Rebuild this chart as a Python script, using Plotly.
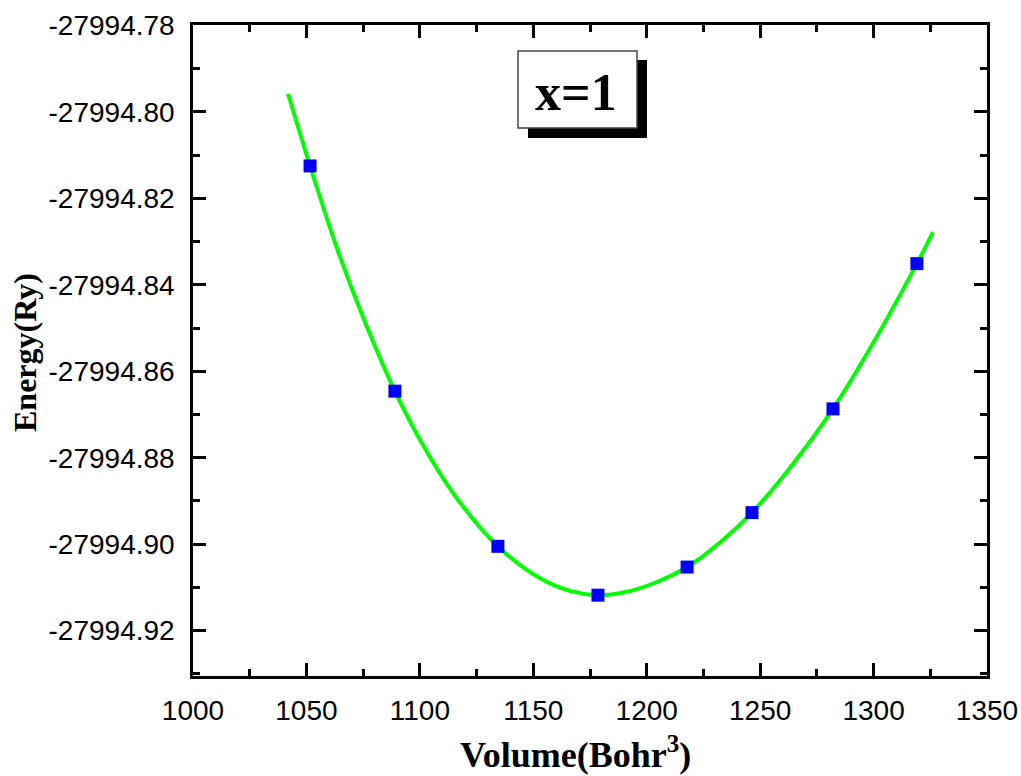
import plotly.graph_objects as go

# Calculated points (blue squares)
volume = [1051.6, 1089.0, 1134.4, 1178.5, 1217.8, 1246.4, 1282.1, 1319.1]
energy = [-27994.8125, -27994.8646, -27994.9005, -27994.9118,
          -27994.9053, -27994.8927, -27994.8687, -27994.8351]

# Fitted curve (green)
fit_volume = [1041.9, 1051.6, 1063.5, 1075.1, 1089.0, 1101.5, 1115.5, 1134.4,
              1153.0, 1166.2, 1178.5, 1189.7, 1202.9, 1217.8, 1232.3, 1246.4,
              1263.2, 1282.1, 1300.0, 1319.1, 1326.2]
fit_energy = [-27994.7958, -27994.8125, -27994.8316, -27994.8477, -27994.8646,
              -27994.8772, -27994.8888, -27994.9005, -27994.9079, -27994.9108,
              -27994.9118, -27994.9112, -27994.9091, -27994.9053, -27994.8996,
              -27994.8927, -27994.8823, -27994.8687, -27994.8533, -27994.8351,
              -27994.8278]

y_tickvals = [-27994.78, -27994.80, -27994.82, -27994.84, -27994.86,
              -27994.88, -27994.90, -27994.92]
y_ticktext = ["-27994.78", "-27994.80", "-27994.82", "-27994.84", "-27994.86",
              "-27994.88", "-27994.90", "-27994.92"]

label_text = "x=1"
x_title = "Volume(Bohr<sup>3</sup>)"
y_title = "Energy(Ry)"

fig = go.Figure()
fig.add_trace(go.Scatter(x=fit_volume, y=fit_energy, mode="lines",
                         line=dict(color="#00FF00", width=4, shape="spline", smoothing=1.0),
                         showlegend=False, hoverinfo="skip"))
fig.add_trace(go.Scatter(x=volume, y=energy, mode="markers",
                         marker=dict(symbol="square", size=13, color="#0000FF",
                                     line=dict(width=0)),
                         showlegend=False))

L, R, T, B = 193, 34, 25, 100
W, H = 1021, 776
pw, ph = W - L - R, H - T - B

def px(x):
    return (x - L) / pw

def py(y):
    return (H - B - y) / ph

tickfont = dict(family="Liberation Sans, Arial", size=28, color="black")
axis_common = dict(showline=True, linecolor="black", linewidth=2.5, mirror="allticks",
                   ticks="inside", ticklen=13, tickwidth=2.5, tickcolor="black",
                   showgrid=False, zeroline=False, tickfont=tickfont)

fig.update_xaxes(range=[1000, 1350], tick0=1000, dtick=50,
                 minor=dict(ticks="inside", ticklen=7, tickwidth=2.5, tickcolor="black", dtick=25, showgrid=False),
                 ticklabelstandoff=8, **axis_common)
fig.update_yaxes(range=[-27994.9305, -27994.7799], tickmode="array",
                 tickvals=y_tickvals, ticktext=y_ticktext,
                 minor=dict(ticks="inside", ticklen=7, tickwidth=2.5, tickcolor="black",
                            tick0=-27994.78, dtick=0.01, showgrid=False),
                 ticklabelstandoff=10, **axis_common)

shapes = [
    dict(type="rect", xref="paper", yref="paper", x0=px(528), x1=px(647), y0=py(138), y1=py(60),
         fillcolor="black", line=dict(width=0), layer="above"),
    dict(type="rect", xref="paper", yref="paper", x0=px(518), x1=px(637), y0=py(128), y1=py(51),
         fillcolor="white", line=dict(color="#444444", width=1.5), layer="above"),
]

annotations = [
    dict(text="<b>" + label_text + "</b>", xref="paper", yref="paper", x=px(576), y=py(92),
         xanchor="center", yanchor="middle", showarrow=False,
         font=dict(family="Liberation Serif, Times New Roman", size=52, color="black")),
    dict(text="<b>" + x_title + "</b>", xref="paper", yref="paper", x=px(575), y=py(752),
         xanchor="center", yanchor="middle", showarrow=False,
         font=dict(family="Liberation Serif, Times New Roman", size=36, color="black")),
    dict(text="<b>" + y_title + "</b>", xref="paper", yref="paper", x=px(25), y=py(353),
         xanchor="center", yanchor="middle", showarrow=False, textangle=-90,
         font=dict(family="Liberation Serif, Times New Roman", size=32, color="black")),
]

fig.update_layout(width=W, height=H, margin=dict(l=L, r=R, t=T, b=B, autoexpand=False),
                  plot_bgcolor="white", paper_bgcolor="white",
                  shapes=shapes, annotations=annotations, showlegend=False)

fig.write_html("out.html")
